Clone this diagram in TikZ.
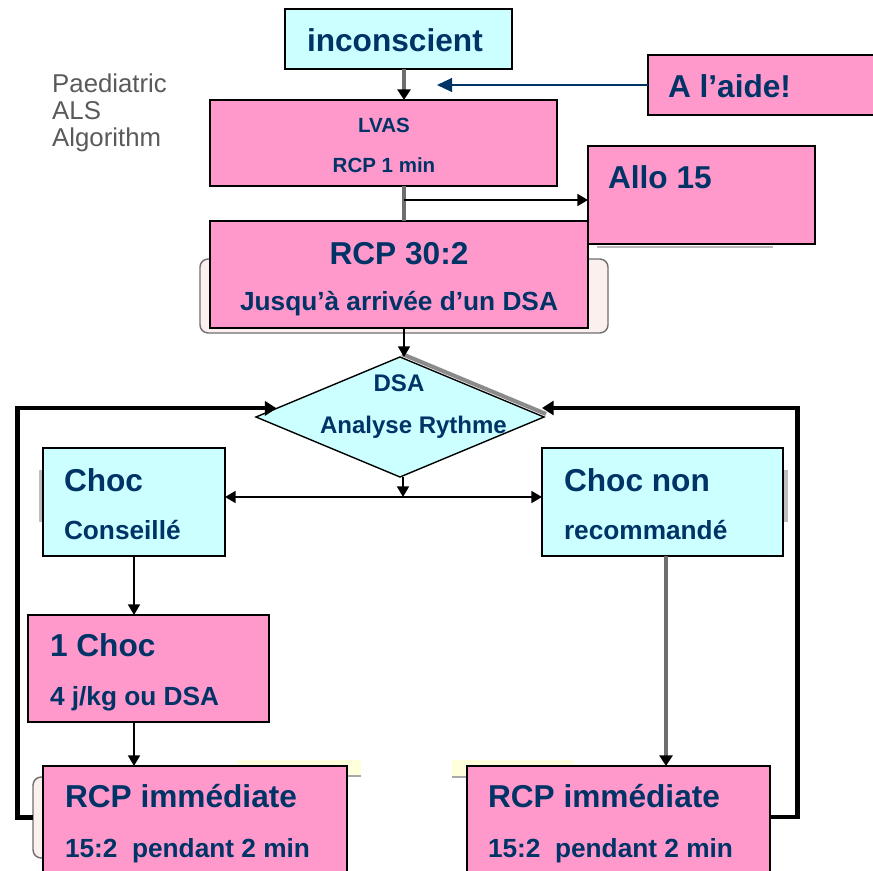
\documentclass[tikz,border=0pt]{standalone}
\usepackage{fontspec}
\setmainfont{Liberation Sans}
\usetikzlibrary{arrows.meta,shapes.geometric,calc}

\definecolor{navy}{HTML}{003366}
\definecolor{rose}{HTML}{FF99CC}
\definecolor{aqua}{HTML}{CCFFFF}
\definecolor{steel}{HTML}{6E6E6E}
\definecolor{caption}{HTML}{5A5A5A}
\definecolor{blush}{HTML}{FCF0EE}
\definecolor{cream}{HTML}{FFFFDC}

% text sizes used in the chart
\newcommand\bigtxt{\fontsize{27}{30}\selectfont\bfseries}
\newcommand\smalltxt{\fontsize{22.4}{26}\selectfont\bfseries}
\newcommand\tinytxt{\fontsize{17.5}{20}\selectfont\bfseries}
\newcommand\midtxt{\fontsize{20.5}{23}\selectfont\bfseries}
\newcommand\captxt{\fontsize{22}{24}\selectfont}

\tikzset{
  dims/.style 2 args={minimum width=#1*0.03cm, minimum height=#2*0.03cm},
  box/.style={draw=black, line width=1.6pt, inner sep=0pt, outer sep=0pt, anchor=north west},
  pinkbox/.style={box, fill=rose},
  cyanbox/.style={box, fill=aqua},
  backpanel/.style={draw=steel, fill=blush, line width=1.2pt, rounded corners=7pt,
                    inner sep=0pt, outer sep=0pt, anchor=north west},
  tab/.style={fill=cream, inner sep=0pt, outer sep=0pt, anchor=north west},
  lbl/.style={text=navy, inner sep=0pt, outer sep=0pt},
  conn/.style={draw=black, line width=2pt, -{Triangle[length=9pt,width=10pt]}},
  gconn/.style={draw=steel, line width=3pt, -{Triangle[length=9pt,width=11pt,color=black]}},
  loopline/.style={draw=black, line width=3.6pt, line join=miter,
                   -{Triangle[length=10pt,width=12pt]}},
  helpline/.style={draw=navy, line width=1.3pt, -{Triangle[length=13pt,width=12pt]}},
}

\begin{document}
\begin{tikzpicture}[x=0.03cm, y=-0.03cm]
\path[use as bounding box] (0,0) rectangle (873,870);
\clip (0,0) rectangle (873,870);

% guide coordinates for the vertical runs
\coordinate (spine) at (404,0);
\coordinate (branch) at (404,200);
\coordinate (fork) at (403,497);
\coordinate (c1x) at (134,0);
\coordinate (c2x) at (666,0);
\coordinate (lx) at (17.5,0);
\coordinate (rx) at (797.5,0);
\coordinate (ry) at (0,817);
\coordinate (helptip) at (437,85);

% caption
\node[text=caption, font=\captxt, inner sep=0pt, anchor=base west] (cap1) at (52,92) {Paediatric};
\node[text=caption, font=\captxt, inner sep=0pt, anchor=base west] (cap2) at (52,119) {ALS};
\node[text=caption, font=\captxt, inner sep=0pt, anchor=base west] (cap3) at (52,146) {Algorithm};

% background panels and tabs
\node[backpanel, dims={408}{74}] (rcp30back) at (200,259) {};
\node[backpanel, dims={70}{81}] (backL) at (33,777) {};
\node[tab, dims={124}{16}] (tabL) at (237,760) {};
\node[tab, dims={121}{17}] (tabR) at (452,760) {};
\draw[steel!60, line width=1.5pt] (tabL.south west) -- (tabL.south east);
\draw[steel!60, line width=1.5pt] (tabR.south west) -- (tabR.south east);
\draw[steel!50, line width=2pt] (597,247) -- (773,247);
\draw[steel!45, line width=3pt] (41,470) -- (41,522);
\draw[steel!45, line width=3pt] (786,470) -- (786,522);

% boxes
\node[cyanbox, dims={227}{60}] (inc) at (285,9) {};
\node[pinkbox, dims={245}{60}] (aide) at (648,55) {};
\node[pinkbox, dims={347}{86}] (lvas) at (210,100) {};
\node[pinkbox, dims={227}{98}] (allo) at (588,146) {};
\node[pinkbox, dims={378}{107}] (rcp30) at (210,221) {};

% diamond with its shadow
\draw[steel!80, line width=3.5pt] (402,354) -- (546,414);
\node[diamond, draw=black, line width=1.2pt, fill=aqua, inner sep=0pt, outer sep=0pt,
      dims={288}{120}] (dsa) at (400,417) {};

\node[cyanbox, dims={182}{108}] (choc) at (43,448) {};
\node[cyanbox, dims={241}{108}] (chocnon) at (542,448) {};
\node[pinkbox, dims={241}{107}] (choc1) at (28,615) {};
\node[pinkbox, dims={304}{120}] (rcpL) at (43,766) {};
\node[pinkbox, dims={303}{120}] (rcpR) at (467,766) {};

% labels
\node[lbl, font=\bigtxt, anchor=base west] (tinc) at (307,52) {inconscient};
\node[lbl, font=\bigtxt, anchor=base west] (taide) at (668,97) {A l’aide!};
\node[lbl, font=\bigtxt, anchor=base west] (tallo) at (608,188) {Allo 15};
\node[lbl, font=\tinytxt, anchor=base] (tlvas) at (384,132) {LVAS};
\node[lbl, font=\tinytxt, anchor=base] (trcp1) at (384,172) {RCP 1 min};
\node[lbl, font=\bigtxt, anchor=base] (trcp30) at (399,264) {RCP 30:2};
\node[lbl, font=\smalltxt, anchor=base] (tjusq) at (399,310) {Jusqu’à arrivée d’un DSA};
\node[lbl, font=\midtxt, anchor=base] (tdsa) at (399,391) {DSA};
\node[lbl, font=\midtxt, anchor=base west] (tana) at (320,433) {Analyse Rythme};
\node[lbl, font=\bigtxt, anchor=base west] (tchoc) at (64,491) {Choc};
\node[lbl, font=\smalltxt, anchor=base west] (tcons) at (64,539) {Conseillé};
\node[lbl, font=\bigtxt, anchor=base west] (tnon) at (564,491) {Choc non};
\node[lbl, font=\smalltxt, anchor=base west] (treco) at (564,539) {recommandé};
\node[lbl, font=\bigtxt, anchor=base west] (tone) at (50,656) {1 Choc};
\node[lbl, font=\smalltxt, anchor=base west] (tjkg) at (50,705) {4 j/kg ou DSA};
\node[lbl, font=\bigtxt, anchor=base west] (timmL) at (65,807) {RCP immédiate};
\node[lbl, font=\smalltxt, anchor=base west] (tminL) at (65,857) {15:2\ \ pendant 2 min};
\node[lbl, font=\bigtxt, anchor=base west] (timmR) at (488,807) {RCP immédiate};
\node[lbl, font=\smalltxt, anchor=base west] (tminR) at (488,857) {15:2\ \ pendant 2 min};

% connectors
\draw[helpline] (aide.west) -- (helptip);
\draw[gconn] (inc.south -| spine) -- (lvas.north -| spine);
\draw[draw=steel, line width=3pt] (lvas.south -| spine) -- (rcp30.north -| spine);
\draw[conn] (branch) -- (branch -| allo.west);
\draw[conn] (rcp30.south -| spine) -- (dsa.north -| spine);
\draw[conn] (dsa.south -| fork) -- (fork);
\draw[conn] (fork) -- (fork -| choc.east);
\draw[conn] (fork) -- (fork -| chocnon.west);
\draw[conn] (choc.south -| c1x) -- (choc1.north -| c1x);
\draw[conn] (choc1.south -| c1x) -- (rcpL.north -| c1x);
\draw[gconn] (chocnon.south -| c2x) -- (rcpR.north -| c2x);
\draw[loopline] (backL.west) -- (lx |- backL.west) |- (dsa.176);
\draw[loopline] (rcpR.east |- ry) -- (rx |- ry) |- ($(dsa.east)+(-2,-9)$);
\end{tikzpicture}
\end{document}
